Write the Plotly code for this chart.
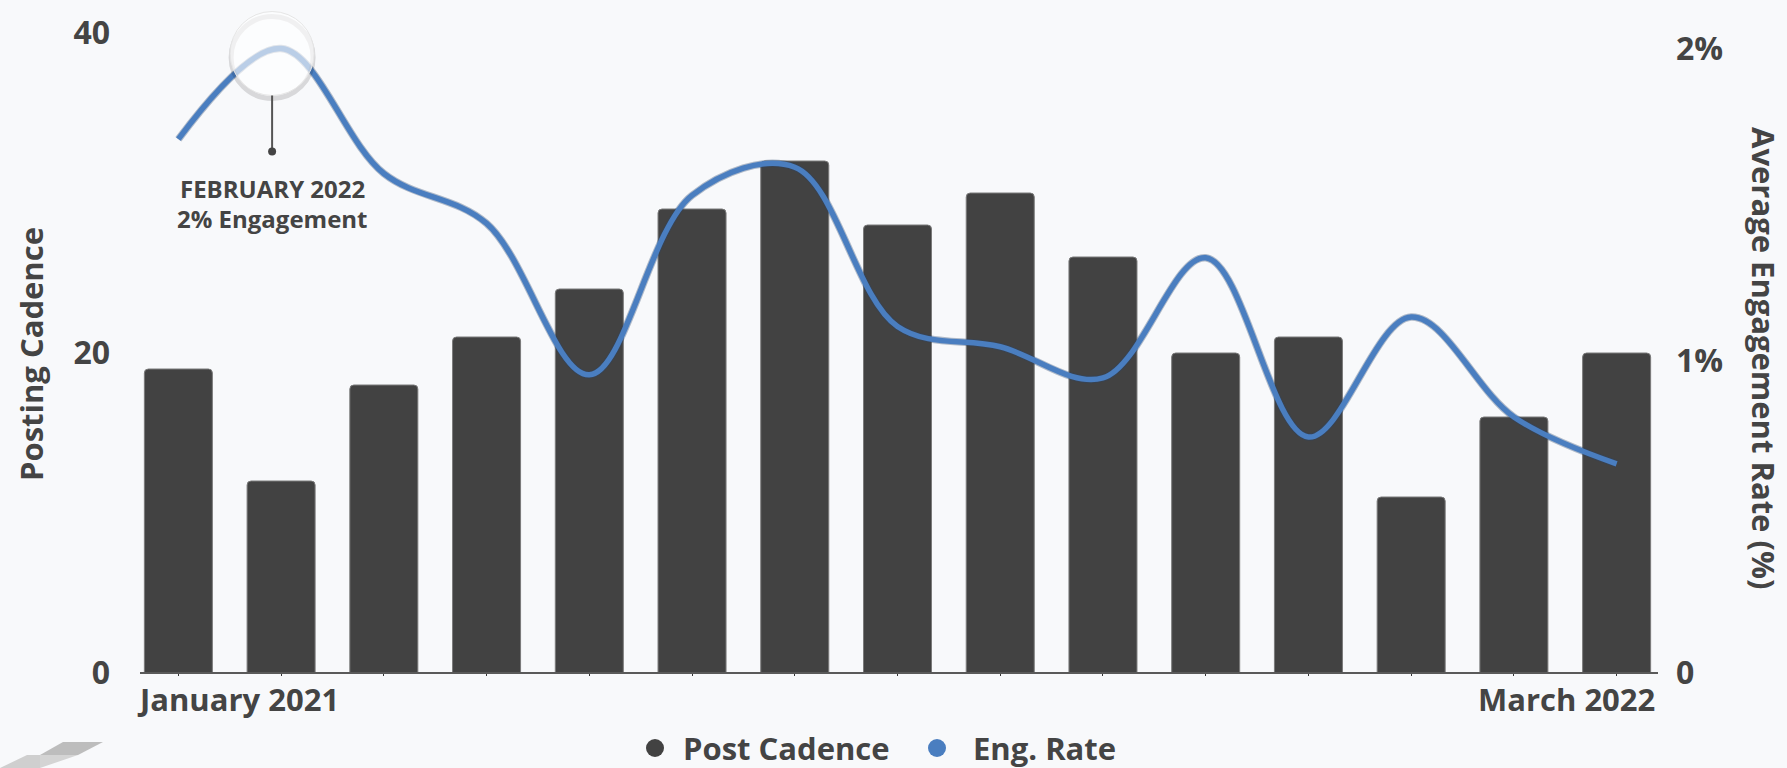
import plotly.graph_objects as go

# Monthly data, Jan 2021 - Mar 2022
months = ["Jan 2021", "Feb 2021", "Mar 2021", "Apr 2021", "May 2021", "Jun 2021",
          "Jul 2021", "Aug 2021", "Sep 2021", "Oct 2021", "Nov 2021", "Dec 2021",
          "Jan 2022", "Feb 2022", "Mar 2022"]
post_cadence = [19, 12, 18, 21, 24, 29, 32, 28, 30, 26, 20, 21, 11, 16, 20]
eng_rate = [1.71, 2.0, 1.60, 1.44, 0.955, 1.53, 1.62, 1.11, 1.045, 0.945, 1.33, 0.756, 1.14, 0.82, 0.67]

left_ticks = [0, 20, 40]
left_ticktext = ["0", "20", "40"]
right_ticks = [0, 1, 2]
right_ticktext = ["0", "1%", "2%"]

series_names = ["Post Cadence", "Eng. Rate"]

TEXT = "#444444"
BAR = "#424242"
BLUE = "#4a7ec0"
BG = "#f8f9fb"
FONT = "Open Sans"

W, H = 1787, 768
L, R, T, B = 127, 119, 33, 95
PW, PH = W - L - R, H - T - B


def px_x(px):
    return (px - L) / PW


def px_y(py):
    return (H - B - py) / PH


fig = go.Figure()

fig.add_trace(go.Bar(
    x=months, y=post_cadence, name=series_names[0],
    marker=dict(color=BAR, line=dict(color="#7a7a7a", width=1)),
    showlegend=False, yaxis="y",
))

# soft dark edge under the engagement line
fig.add_trace(go.Scatter(
    x=months, y=eng_rate, mode="lines", yaxis="y2",
    line=dict(color="rgba(40,70,110,0.35)", width=7.5, shape="spline", smoothing=1),
    showlegend=False, hoverinfo="skip",
))
fig.add_trace(go.Scatter(
    x=months, y=eng_rate, mode="lines", name=series_names[1], yaxis="y2",
    line=dict(color=BLUE, width=5.5, shape="spline", smoothing=1),
    showlegend=False,
))

shapes = []
# baseline
shapes.append(dict(type="line", xref="paper", yref="paper",
                   x0=px_x(140), x1=px_x(1658), y0=0, y1=0,
                   line=dict(color="#5a5a5a", width=2)))

# highlight bubble on the peak month
peak_i = eng_rate.index(max(eng_rate))
cx = px_x(L + (peak_i + 0.5) * PW / len(months) - 9)
cy = 53.5
rad = 42
# drop shadow (offset downward)
shapes.append(dict(type="circle", xref="paper", yref="paper", layer="above",
                   x0=cx - (rad - 1) / PW, x1=cx + (rad - 1) / PW,
                   y0=px_y(cy + 4 + rad - 1), y1=px_y(cy + 4 - rad + 1),
                   fillcolor="rgba(0,0,0,0)",
                   line=dict(color="rgba(0,0,0,0.13)", width=5)))
shapes.append(dict(type="circle", xref="paper", yref="paper", layer="above",
                   x0=cx - rad / PW, x1=cx + rad / PW,
                   y0=px_y(cy + rad), y1=px_y(cy - rad),
                   fillcolor="rgba(255,255,255,0.62)",
                   line=dict(color="rgba(230,230,230,1)", width=1)))
shapes.append(dict(type="line", xref="paper", yref="paper", layer="above",
                   x0=cx, x1=cx, y0=px_y(cy + rad), y1=px_y(151.5),
                   line=dict(color="#555555", width=2)))
shapes.append(dict(type="circle", xref="paper", yref="paper", layer="above",
                   x0=cx - 4 / PW, x1=cx + 4 / PW, y0=px_y(155.5), y1=px_y(147.5),
                   fillcolor="#444444", line=dict(width=0)))

# legend dots
legend_y = 748
legend_items = [(655, 681, BAR), (937, 971, BLUE)]
for (dot_x, _, color) in legend_items:
    shapes.append(dict(type="circle", xref="paper", yref="paper",
                       x0=px_x(dot_x - 9), x1=px_x(dot_x + 9),
                       y0=px_y(legend_y + 9), y1=px_y(legend_y - 9),
                       fillcolor=color, line=dict(width=0)))

# corner mark
shapes.append(dict(type="path", xref="paper", yref="paper", layer="above",
                   path=f"M {px_x(63)},{px_y(742)} L {px_x(103)},{px_y(742)} "
                        f"L {px_x(78)},{px_y(755)} L {px_x(40)},{px_y(755)} Z",
                   fillcolor="#bdbdbd", line=dict(width=0)))
shapes.append(dict(type="path", xref="paper", yref="paper", layer="above",
                   path=f"M {px_x(40)},{px_y(755)} L {px_x(78)},{px_y(755)} "
                        f"L {px_x(40)},{px_y(768)} Z",
                   fillcolor="#d4d4d4", line=dict(width=0)))
shapes.append(dict(type="path", xref="paper", yref="paper", layer="above",
                   path=f"M {px_x(0)},{px_y(768)} L {px_x(27)},{px_y(755)} "
                        f"L {px_x(40)},{px_y(755)} L {px_x(40)},{px_y(768)} Z",
                   fillcolor="#cfcfcf", line=dict(width=0)))

annotations = [
    dict(text="FEBRUARY 2022", x=cx, y=px_y(188.5), xref="paper", yref="paper",
         showarrow=False, xanchor="center", yanchor="middle",
         font=dict(family=FONT, size=24, color=TEXT, weight="bold")),
    dict(text="2% Engagement", x=cx, y=px_y(218.5), xref="paper", yref="paper",
         showarrow=False, xanchor="center", yanchor="middle",
         font=dict(family=FONT, size=24, color=TEXT, weight="bold")),
    dict(text="January 2021", x=px_x(135), y=px_y(699), xref="paper", yref="paper",
         showarrow=False, xanchor="left", yanchor="middle",
         font=dict(family=FONT, size=31, color=TEXT, weight="bold")),
    dict(text="March 2022", x=px_x(1657), y=px_y(699), xref="paper", yref="paper",
         showarrow=False, xanchor="right", yanchor="middle",
         font=dict(family=FONT, size=31, color=TEXT, weight="bold")),
    dict(text="Posting Cadence", x=px_x(31), y=px_y(354), xref="paper", yref="paper",
         showarrow=False, xanchor="center", yanchor="middle", textangle=-90,
         font=dict(family=FONT, size=31, color=TEXT, weight="bold")),
    dict(text="Average Engagement Rate (%)", x=px_x(1764), y=px_y(358),
         xref="paper", yref="paper", showarrow=False, xanchor="center",
         yanchor="middle", textangle=90,
         font=dict(family=FONT, size=31, color=TEXT, weight="bold")),
]
for name, (_, text_x, _) in zip(series_names, legend_items):
    annotations.append(dict(text=name, x=px_x(text_x), y=px_y(legend_y),
                            xref="paper", yref="paper", showarrow=False,
                            xanchor="left", yanchor="middle",
                            font=dict(family=FONT, size=31, color=TEXT, weight="bold")))

fig.update_layout(
    width=W, height=H,
    margin=dict(l=L, r=R, t=T, b=B, pad=0, autoexpand=False),
    paper_bgcolor=BG, plot_bgcolor=BG,
    bargap=0.338, barcornerradius=4,
    showlegend=False,
    font=dict(family=FONT, color=TEXT),
    xaxis=dict(showgrid=False, zeroline=False, showline=False,
               showticklabels=False, ticks="outside", ticklen=2, tickwidth=1,
               tickcolor="#333333", range=[-0.5, 14.5]),
    yaxis=dict(range=[0, 40], tickvals=left_ticks, ticktext=left_ticktext,
               showgrid=False, zeroline=False, showline=False, ticks="",
               ticklabelstandoff=16,
               tickfont=dict(family=FONT, size=32, color=TEXT, weight="bold")),
    yaxis2=dict(range=[0, 2.05], tickvals=right_ticks, ticktext=right_ticktext,
                overlaying="y", side="right", showgrid=False, zeroline=False,
                showline=False, ticks="", ticklabelstandoff=7,
                tickfont=dict(family=FONT, size=32, color=TEXT, weight="bold")),
    shapes=shapes,
    annotations=annotations,
)

fig.write_html("out.html")
